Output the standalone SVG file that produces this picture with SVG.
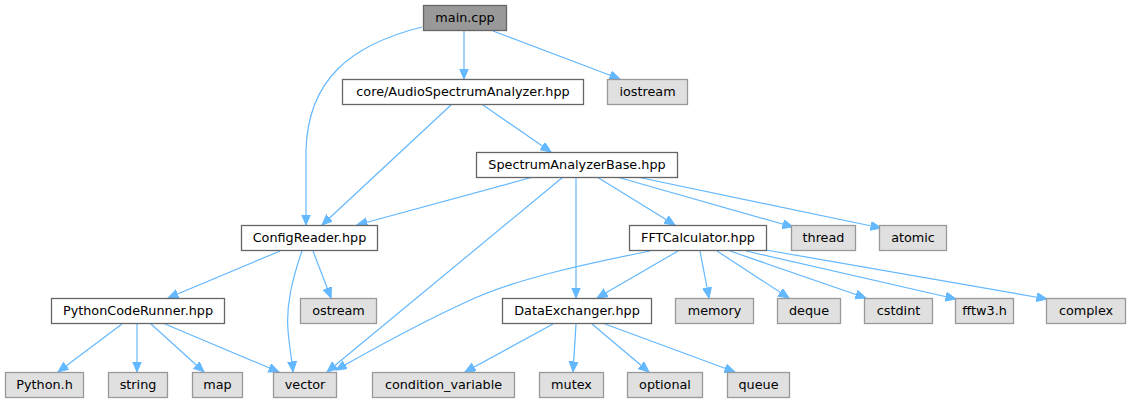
<svg xmlns="http://www.w3.org/2000/svg" width="1131" height="403" viewBox="0 0 1131 403">
<style>
.n rect{fill:#ffffff;stroke:#666666;stroke-width:1.3}
.g rect{fill:#e0e0e0;stroke:#999999;stroke-width:1.3}
.m rect{fill:#999999;stroke:#666666;stroke-width:1.3}
text{font-family:"DejaVu Sans",sans-serif;font-size:12.8px;fill:#000000;text-anchor:middle}
#edges path{fill:none;stroke:#63b8ff;stroke-width:1.2;marker-end:url(#arr)}
</style>
<defs>
<marker id="arr" markerWidth="12" markerHeight="10" refX="10.5" refY="4.5" orient="auto" markerUnits="userSpaceOnUse">
<path d="M0,0 L10.5,4.5 L0,9 z" fill="#63b8ff" stroke="#63b8ff" stroke-width="1"/>
</marker>
</defs>
<rect width="1131" height="403" fill="#ffffff"/>
<g id="edges">
<path d="M464,31 L464,79"/>
<path d="M493,31 L620,79"/>
<path d="M422,27 C350,45 308,80 306,150 L306,225"/>
<path d="M451,105 L322,225"/>
<path d="M483,105 L551,152"/>
<path d="M533,177 L357,225"/>
<path d="M563,177 L327,372"/>
<path d="M576,177 L576,298"/>
<path d="M597,177 L675,225"/>
<path d="M617,177 L793,227"/>
<path d="M637,177 L881,228"/>
<path d="M650,251 C590,263 520,278 475,298 C430,318 380,345 336,370"/>
<path d="M678,251 L597,298"/>
<path d="M700,251 L709,298"/>
<path d="M717,251 L789,298"/>
<path d="M730,251 L866,298"/>
<path d="M746,251 L956,299"/>
<path d="M766,250 L1047,299"/>
<path d="M280,251 L168,298"/>
<path d="M302,251 C292,280 286,305 288,330 C289,345 292,360 293,372"/>
<path d="M313,251 L331,298"/>
<path d="M122,324 L58,372"/>
<path d="M137,324 L137,372"/>
<path d="M151,324 L204,372"/>
<path d="M165,324 L279,372"/>
<path d="M553,324 L465,372"/>
<path d="M576,324 L573,372"/>
<path d="M592,324 L649,372"/>
<path d="M605,324 L735,372"/>
</g>
<g id="main_cpp" class="m"><rect x="423.5" y="5.5" width="83" height="25"/><text x="465" y="22">main.cpp</text></g>
<g id="core_asa" class="n"><rect x="342.5" y="79.5" width="241" height="25"/><text x="463" y="96">core/AudioSpectrumAnalyzer.hpp</text></g>
<g id="iostream" class="g"><rect x="607.5" y="79.5" width="80" height="25"/><text x="647.5" y="96">iostream</text></g>
<g id="sab" class="n"><rect x="476.5" y="152.5" width="201" height="25"/><text x="577" y="169">SpectrumAnalyzerBase.hpp</text></g>
<g id="configreader" class="n"><rect x="241.5" y="225.5" width="136" height="25"/><text x="309.5" y="242">ConfigReader.hpp</text></g>
<g id="fftcalc" class="n"><rect x="629.5" y="225.5" width="137" height="25"/><text x="698" y="242">FFTCalculator.hpp</text></g>
<g id="thread" class="g"><rect x="791.5" y="225.5" width="64" height="25"/><text x="823.5" y="242">thread</text></g>
<g id="atomic" class="g"><rect x="879.5" y="225.5" width="67" height="25"/><text x="913" y="242">atomic</text></g>
<g id="pythoncoderunner" class="n"><rect x="51.5" y="298.5" width="173" height="25"/><text x="138" y="315">PythonCodeRunner.hpp</text></g>
<g id="ostream" class="g"><rect x="300.5" y="298.5" width="76" height="25"/><text x="338.5" y="315">ostream</text></g>
<g id="dataexchanger" class="n"><rect x="502.5" y="298.5" width="149" height="25"/><text x="577" y="315">DataExchanger.hpp</text></g>
<g id="memory" class="g"><rect x="675.5" y="298.5" width="78" height="25"/><text x="714.5" y="315">memory</text></g>
<g id="deque" class="g"><rect x="777.5" y="298.5" width="63" height="25"/><text x="809" y="315">deque</text></g>
<g id="cstdint" class="g"><rect x="864.5" y="298.5" width="68" height="25"/><text x="898.5" y="315">cstdint</text></g>
<g id="fftw3" class="g"><rect x="955.5" y="298.5" width="58" height="25"/><text x="984.5" y="315">fftw3.h</text></g>
<g id="complex" class="g"><rect x="1046.5" y="298.5" width="79" height="25"/><text x="1086" y="315">complex</text></g>
<g id="python_h" class="g"><rect x="5.5" y="372.5" width="78" height="25"/><text x="44.5" y="389">Python.h</text></g>
<g id="string" class="g"><rect x="108.5" y="372.5" width="59" height="25"/><text x="138" y="389">string</text></g>
<g id="map" class="g"><rect x="192.5" y="372.5" width="50" height="25"/><text x="217.5" y="389">map</text></g>
<g id="vector" class="g"><rect x="273.5" y="372.5" width="63" height="25"/><text x="305" y="389">vector</text></g>
<g id="condition_variable" class="g"><rect x="372.5" y="372.5" width="142" height="25"/><text x="443.5" y="389">condition_variable</text></g>
<g id="mutex" class="g"><rect x="539.5" y="372.5" width="64" height="25"/><text x="571.5" y="389">mutex</text></g>
<g id="optional" class="g"><rect x="627.5" y="372.5" width="75" height="25"/><text x="665" y="389">optional</text></g>
<g id="queue" class="g"><rect x="727.5" y="372.5" width="62" height="25"/><text x="758.5" y="389">queue</text></g>
</svg>
